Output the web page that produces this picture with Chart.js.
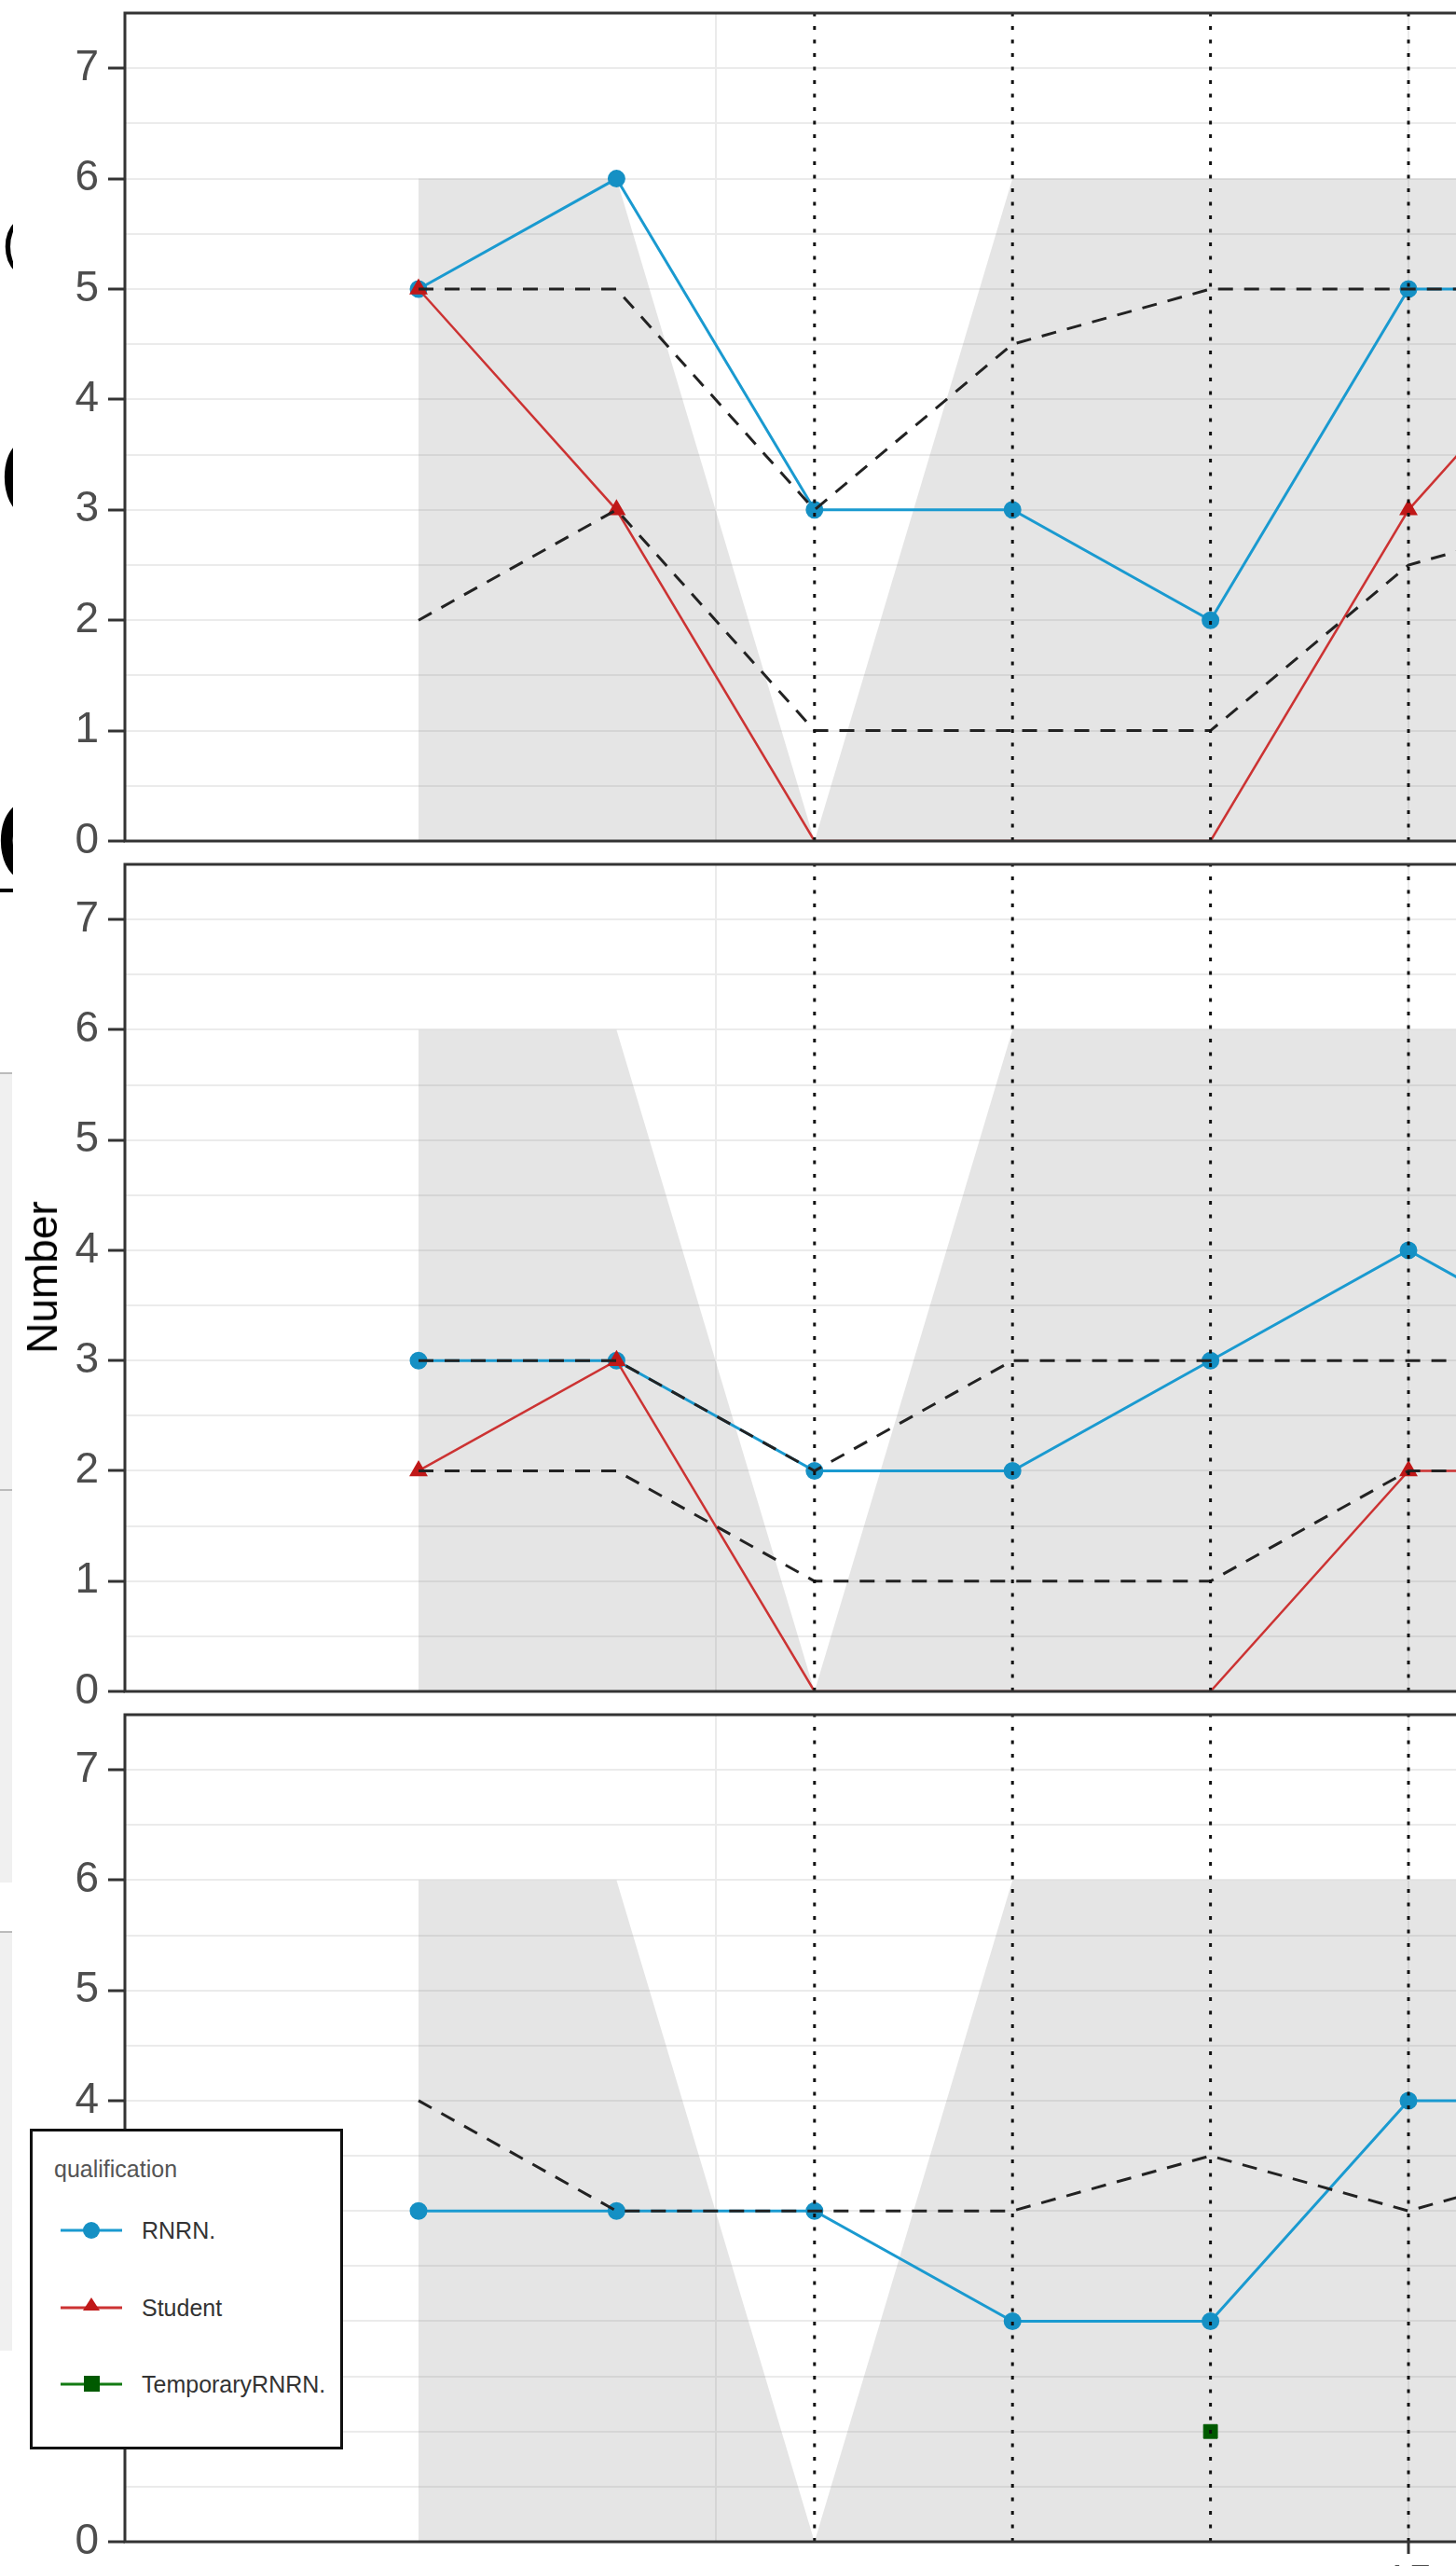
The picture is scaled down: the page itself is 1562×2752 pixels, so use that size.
<!DOCTYPE html>
<html>
<head>
<meta charset="utf-8">
<script src="https://cdn.jsdelivr.net/npm/chart.js@4.4.1/dist/chart.umd.min.js"></script>
<style>
html, body { margin: 0; padding: 0; background: #fff; }
body { width: 1562px; height: 2752px; position: relative; overflow: hidden; font-family: "Liberation Sans", Arial, sans-serif; }
canvas { position: absolute; left: 0; }
#ylab { position: absolute; left: 45px; top: 1370px; transform: translate(-50%, -50%) rotate(-90deg); font-size: 46px; color: #000; white-space: nowrap; }
#legend { position: absolute; left: 32px; top: 2283px; width: 330px; height: 338px; border: 3px solid #111; background: #fff; }
#legend .ttl { position: absolute; left: 23px; top: 28px; font-size: 25px; line-height: 1; color: #555; }
#legend .item { position: absolute; left: 30px; height: 30px; display: flex; align-items: center; }
#legend .item span { position: absolute; left: 87px; font-size: 25px; color: #333; white-space: nowrap; }
.strip { position: absolute; left: 0; width: 13px; background: #f0f0f0; border-top: 2px solid #bbb; }
#edge { position: absolute; left: 0; top: 0; width: 14px; height: 1000px; overflow: hidden; }
#edge span { position: absolute; font-size: 135px; line-height: 1; color: #000; }
</style>
</head>
<body>
<div id="edge">
  <span style="left:2px;top:230px;font-size:60px">(</span>
  <span style="left:-2px;top:445px">C</span>
  <span style="left:-6px;top:835px">C</span>
  <div style="position:absolute;left:0;top:953px;width:14px;height:4px;background:#000"></div>
</div>
<canvas id="p1" width="1562" height="968" style="top:-26px"></canvas>
<canvas id="p2" width="1562" height="967" style="top:887px"></canvas>
<canvas id="p3" width="1562" height="988" style="top:1799px"></canvas>
<div class="strip" style="top:1150px;height:445px"></div>
<div class="strip" style="top:1597px;height:420px"></div>
<div class="strip" style="top:2071px;height:448px"></div>
<div id="ylab">Number</div>
<div id="legend">
  <div class="ttl">qualification</div>
  <div class="item" style="top:91px">
    <svg width="66" height="30"><line x1="0" y1="15" x2="66" y2="15" stroke="#1a9ad0" stroke-width="3"/><circle cx="33" cy="15" r="9" fill="#1590c4"/></svg>
    <span>RNRN.</span>
  </div>
  <div class="item" style="top:174px">
    <svg width="66" height="30"><line x1="0" y1="15" x2="66" y2="15" stroke="#cc3333" stroke-width="3"/><polygon points="33,4 42,18 24,18" fill="#c01818"/></svg>
    <span>Student</span>
  </div>
  <div class="item" style="top:256px">
    <svg width="66" height="30"><line x1="0" y1="15" x2="66" y2="15" stroke="#137a13" stroke-width="3"/><rect x="25" y="6" width="17" height="17" fill="#005a00"/></svg>
    <span>TemporaryRNRN.</span>
  </div>
</div>

<script>
// x positions (visit index), dotted reference lines and shaded band
const xPos = [0, 1, 2, 3, 4, 5, 6];
const vlineX = [2, 3, 4, 5];
const shadeY = [6, 6, 0, 6, 6, 6, 6];
const xMajor = [5];
const xMajorLabels = ['15'];
const xMinor = [1.5];

// panel 1
const p1Rnrn    = [5, 6, 3, 3, 2, 5, 5];
const p1Student = [5, 3, 0, 0, 0, 3, 5];
const p1Upper   = [5, 5, 3, 4.5, 5, 5, 5];
const p1Lower   = [2, 3, 1, 1, 1, 2.5, 3];

// panel 2
const p2Rnrn    = [3, 3, 2, 2, 3, 4, 3];
const p2Student = [2, 3, 0, 0, 0, 2, 2];
const p2Upper   = [3, 3, 2, 3, 3, 3, 3];
const p2Lower   = [2, 2, 1, 1, 1, 2, 2];

// panel 3
const p3Rnrn    = [3, 3, 3, 2, 2, 4, 4];
const p3Upper   = [4, 3, 3, 3, 3.5, 3, 3.5];
const p3TempX   = [4];
const p3Temp    = [1];

const BLUE = '#1a9ad0', BLUE_PT = '#1590c4';
const RED = '#cc3333', RED_PT = '#c01818';
const GREEN_PT = '#005a00';
const FONT = '"Liberation Sans", Arial, sans-serif';
const X_MIN = -1.483, X_MAX = 5.24;

function pts(xs, ys) { return xs.map((x, i) => ({ x: x, y: ys[i] })); }

var frame = {
    id: 'frame',
    afterDatasetsDraw(chart) {
        const a = chart.chartArea, c = chart.ctx;
        c.save();
        c.strokeStyle = '#333';
        c.lineWidth = 3;
        c.beginPath();
        c.moveTo(a.right + 5, a.top); c.lineTo(a.left, a.top);
        c.lineTo(a.left, a.bottom); c.lineTo(a.right + 5, a.bottom);
        c.stroke();
        c.restore();
    }
};

function makePanel(id, p) {
    var sets = [];
    sets.push({ data: pts(xPos, shadeY), fill: 'origin', backgroundColor: 'rgba(127,127,127,0.2)',
        borderWidth: 0, pointRadius: 0, order: 10 });
    vlineX.forEach(function (v) {
        sets.push({ data: [{ x: v, y: 0 }, { x: v, y: 7.5 }], borderColor: '#111', borderWidth: 3,
            borderDash: [4, 10.5], pointRadius: 0, order: 0 });
    });
    [p.upper, p.lower].forEach(function (arr) {
        if (!arr) return;
        sets.push({ data: pts(xPos, arr), borderColor: '#222', borderWidth: 3, borderDash: [16, 12],
            pointRadius: 0, order: 1 });
    });
    if (p.student) {
        sets.push({ data: pts(xPos, p.student), borderColor: RED, borderWidth: 2.5,
            pointStyle: 'triangle', backgroundColor: RED_PT, pointBorderColor: RED_PT,
            pointRadius: ctx => (ctx.raw && ctx.raw.y === 0 ? 0 : 9), order: 2 });
    }
    if (p.temp) {
        sets.push({ data: pts(p3TempX, p.temp), showLine: false, pointStyle: 'rect',
            backgroundColor: GREEN_PT, pointBorderColor: GREEN_PT, pointRadius: 10.5, order: 2 });
    }
    sets.push({ data: pts(xPos, p.rnrn), borderColor: BLUE, borderWidth: 3, pointStyle: 'circle',
        backgroundColor: BLUE_PT, pointBorderColor: BLUE_PT, pointRadius: 8, order: 3 });

    return new Chart(document.getElementById(id), {
        type: 'line',
        data: { datasets: sets },
        plugins: [frame],
        options: {
            responsive: false,
            animation: false,
            events: [],
            layout: { autoPadding: false, padding: { top: 40, left: 0, right: 0, bottom: 0 } },
            plugins: { legend: { display: false }, tooltip: { enabled: false } },
            scales: {
                x: {
                    type: 'linear', min: X_MIN, max: X_MAX,
                    afterFit(s) { s.height = p.bottomH; },
                    afterBuildTicks(s) { s.ticks = xMinor.concat(xMajor).map(v => ({ value: v })); },
                    border: { display: false },
                    grid: {
                        color: '#ebebeb', lineWidth: 2, tickLength: 13, tickWidth: 3,
                        tickColor: ctx => (p.xTicks && xMajor.includes(ctx.tick.value) ? '#333' : 'rgba(0,0,0,0)')
                    },
                    ticks: {
                        display: !!p.xTicks, autoSkip: false, maxRotation: 0, padding: 4,
                        color: '#4d4d4d', font: { size: 46, family: FONT },
                        callback: v => { const i = xMajor.indexOf(v); return i >= 0 ? xMajorLabels[i] : ''; }
                    }
                },
                y: {
                    min: 0, max: 7.5,
                    afterFit(s) { s.width = 134; },
                    border: { display: false },
                    grid: {
                        color: '#ebebeb', lineWidth: 2, tickLength: 18, tickWidth: 3,
                        tickColor: ctx => (Number.isInteger(ctx.tick.value) ? '#333' : 'rgba(0,0,0,0)')
                    },
                    ticks: {
                        stepSize: 0.5, autoSkip: false, padding: 10,
                        color: '#4d4d4d', font: { size: 46, family: FONT },
                        callback: v => (Number.isInteger(v) ? String(v) : '')
                    }
                }
            }
        }
    });
}

makePanel('p1', { rnrn: p1Rnrn, student: p1Student, upper: p1Upper, lower: p1Lower, bottomH: 40 });
makePanel('p2', { rnrn: p2Rnrn, student: p2Student, upper: p2Upper, lower: p2Lower, bottomH: 40 });
makePanel('p3', { rnrn: p3Rnrn, upper: p3Upper, temp: p3Temp, bottomH: 61, xTicks: true });
</script>
</body>
</html>
